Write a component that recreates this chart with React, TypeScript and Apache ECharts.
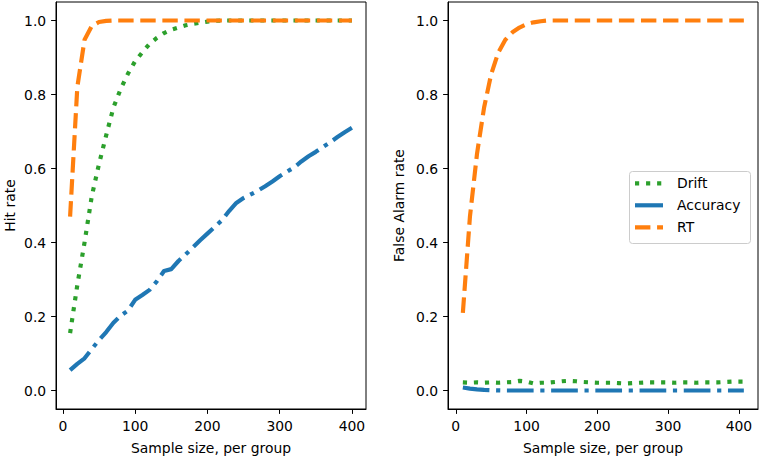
import React, { useEffect, useRef } from "react";
import * as echarts from "echarts";

// ---------- data ----------
const leftX = [10, 20, 30, 40, 50, 60, 70, 80, 90, 100, 110, 120, 130, 140, 150, 160, 170, 180, 190, 200,
  210, 220, 230, 240, 250, 260, 270, 280, 290, 300, 310, 320, 330, 340, 350, 360, 370, 380, 390, 400];
const leftDrift = [0.155, 0.285, 0.4, 0.525, 0.612, 0.69, 0.765, 0.815, 0.856, 0.89, 0.914, 0.937, 0.953, 0.966, 0.975,
  0.981, 0.987, 0.991, 0.994, 0.997, 0.999, 1, 1, 1, 1, 1, 1, 1, 1, 1, 1, 1, 1, 1, 1, 1, 1, 1, 1, 1];
const leftAccuracy = [0.055, 0.072, 0.087, 0.112, 0.136, 0.158, 0.183, 0.202, 0.216, 0.245, 0.258, 0.272, 0.295, 0.323,
  0.328, 0.35, 0.368, 0.387, 0.406, 0.424, 0.442, 0.46, 0.485, 0.507, 0.52, 0.53, 0.54, 0.552, 0.565, 0.579, 0.591,
  0.603, 0.619, 0.633, 0.645, 0.658, 0.671, 0.685, 0.698, 0.71];
const leftRT = [0.47, 0.82, 0.948, 0.985, 0.996, 0.999, 1, 1, 1, 1, 1, 1, 1, 1, 1, 1, 1, 1, 1, 1,
  1, 1, 1, 1, 1, 1, 1, 1, 1, 1, 1, 1, 1, 1, 1, 1, 1, 1, 1, 1];

const rightX = [10, 20, 30, 40, 50, 60, 70, 80, 90, 100, 110, 120, 130, 140, 150, 160, 170, 180, 190, 200,
  210, 220, 230, 240, 250, 260, 270, 280, 290, 300, 310, 320, 330, 340, 350, 360, 370, 380, 390, 400, 407];
const rightDrift = [0.022, 0.021, 0.022, 0.021, 0.022, 0.021, 0.022, 0.023, 0.026, 0.024, 0.019, 0.021, 0.021, 0.023,
  0.025, 0.026, 0.025, 0.023, 0.022, 0.021, 0.021, 0.021, 0.02, 0.019, 0.02, 0.021, 0.022, 0.022, 0.022, 0.022, 0.021,
  0.022, 0.022, 0.021, 0.022, 0.022, 0.022, 0.023, 0.024, 0.024, 0.024];
const rightAccuracy = [0.008, 0.005, 0.003, 0.0015, 0.0008, 0.0004, 0, 0, 0, 0, 0, 0, 0, 0, 0, 0, 0, 0, 0, 0,
  0, 0, 0, 0, 0, 0, 0, 0, 0, 0, 0, 0, 0, 0, 0, 0, 0, 0, 0, 0, 0];
const rightRT = [0.21, 0.47, 0.64, 0.765, 0.855, 0.913, 0.948, 0.968, 0.981, 0.99, 0.995, 0.998, 1, 1, 1, 1, 1, 1, 1, 1,
  1, 1, 1, 1, 1, 1, 1, 1, 1, 1, 1, 1, 1, 1, 1, 1, 1, 1, 1, 1, 1];

const xTicks = [0, 100, 200, 300, 400];
const yTicks = [0, 0.2, 0.4, 0.6, 0.8, 1.0];
const legendNames = ["Drift", "Accuracy", "RT"];

// ---------- styles ----------
const FONT = "DejaVu Sans";
const FS = 13.9;
const COLORS: Record<string, string> = { Drift: "#2ca02c", Accuracy: "#1f77b4", RT: "#ff7f0e" };
const LW = 4.17;
const DASHES: Record<string, number[]> = {
  Drift: [4.17, 6.88],
  Accuracy: [26.7, 6.67, 4.17, 6.67],
  RT: [15.4, 6.67],
};

const pairs = (xs: number[], ys: number[]) => xs.map((x, i) => [x, ys[i]]);

function xAxis(gridIndex: number, min: number, max: number) {
  return {
    type: "value",
    gridIndex,
    min,
    max,
    name: "Sample size, per group",
    nameLocation: "middle",
    nameGap: 32,
    nameTextStyle: { fontFamily: FONT, fontSize: FS, color: "#000" },
    axisLine: { show: true, onZero: false, lineStyle: { color: "#000", width: 1 } },
    axisTick: { show: true, length: 4.9, inside: false, customValues: xTicks, lineStyle: { color: "#000", width: 1 } },
    axisLabel: {
      show: true, margin: 9.8, fontFamily: FONT, fontSize: FS, color: "#000", customValues: xTicks,
      formatter: (v: number) => String(Math.round(v)),
    },
    splitLine: { show: false },
  };
}

function yAxis(gridIndex: number, name: string, gap: number) {
  return {
    type: "value",
    gridIndex,
    min: -0.05,
    max: 1.05,
    name,
    nameLocation: "middle",
    nameGap: gap,
    nameTextStyle: { fontFamily: FONT, fontSize: FS, color: "#000" },
    axisLine: { show: true, onZero: false, lineStyle: { color: "#000", width: 1 } },
    axisTick: { show: true, length: 4.9, inside: false, customValues: yTicks, lineStyle: { color: "#000", width: 1 } },
    axisLabel: {
      show: true, margin: 9.8, fontFamily: FONT, fontSize: FS, color: "#000", customValues: yTicks,
      formatter: (v: number) => v.toFixed(1),
    },
    splitLine: { show: false },
  };
}

function lineSeries(name: string, idx: number, data: number[][]) {
  return {
    type: "line",
    name,
    xAxisIndex: idx,
    yAxisIndex: idx,
    data,
    symbol: "none",
    showSymbol: false,
    smooth: false,
    lineStyle: { color: COLORS[name], width: LW, type: DASHES[name], cap: "butt", join: "round" },
    itemStyle: { color: COLORS[name] },
    emphasis: { disabled: true },
    silent: true,
  };
}

export default function App() {
  const ref = useRef<HTMLDivElement>(null);
  useEffect(() => {
    if (!ref.current) return;
    const chart = echarts.init(ref.current, undefined, { renderer: "svg" });

    const legendTop = 183.3;
    const legendGap = 22;
    const legendElems: any[] = [
      {
        type: "rect",
        z: 100,
        shape: { x: 629.5, y: 171.5, width: 121, height: 72, r: 3 },
        style: { fill: "rgba(255,255,255,0.8)", stroke: "#cccccc", lineWidth: 1 },
      },
    ];
    legendNames.forEach((n, i) => {
      const y = legendTop + i * legendGap;
      legendElems.push({
        type: "line",
        z: 101,
        shape: { x1: 635, y1: y, x2: 663, y2: y },
        style: {
          stroke: COLORS[n],
          lineWidth: LW,
          lineDash: n === "Accuracy" ? null : DASHES[n],
          lineCap: "butt",
        },
      });
      legendElems.push({
        type: "text",
        z: 101,
        x: 677,
        y,
        style: { text: n, fontFamily: FONT, fontSize: FS, fill: "#000", textVerticalAlign: "middle", textAlign: "left" },
      });
    });

    chart.setOption({
      animation: false,
      backgroundColor: "#fff",
      grid: [
        { left: 56, top: 2, width: 310, height: 410.7, show: true, borderColor: "#000", borderWidth: 1, containLabel: false },
        { left: 448, top: 2, width: 310, height: 410.7, show: true, borderColor: "#000", borderWidth: 1, containLabel: false },
      ],
      xAxis: [xAxis(0, -9.5, 419.5), xAxis(1, -11, 427)],
      yAxis: [yAxis(0, "Hit rate", 39), yAxis(1, "False Alarm rate", 42)],
      series: [
        lineSeries("Drift", 0, pairs(leftX, leftDrift)),
        lineSeries("Accuracy", 0, pairs(leftX, leftAccuracy)),
        lineSeries("RT", 0, pairs(leftX, leftRT)),
        lineSeries("Drift", 1, pairs(rightX, rightDrift)),
        lineSeries("Accuracy", 1, pairs(rightX, rightAccuracy)),
        lineSeries("RT", 1, pairs(rightX, rightRT)),
      ],
      graphic: legendElems,
    });
    return () => chart.dispose();
  }, []);
  return <div ref={ref} style={{ position: "fixed", left: 0, top: 0, width: 760, height: 460 }} />;
}
